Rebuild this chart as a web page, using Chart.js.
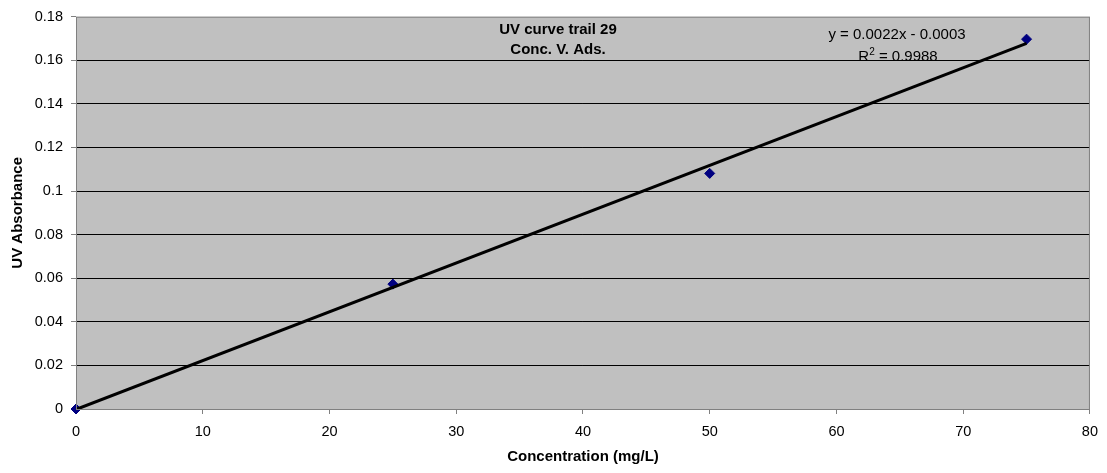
<!DOCTYPE html>
<html>
<head>
<meta charset="utf-8">
<script src="https://cdn.jsdelivr.net/npm/chart.js@4/dist/chart.umd.min.js"></script>
<style>
  html, body { margin: 0; padding: 0; background: #fff; }
  #wrap { width: 1107px; height: 473px; }
</style>
</head>
<body>
<div id="wrap"><canvas id="uvChart"></canvas></div>
<script>
// data
const concentration = [0, 25, 50, 75];
const absorbance = [0, 0.0573, 0.1081, 0.1697];
const xTicks = [0, 10, 20, 30, 40, 50, 60, 70, 80];
const yTicks = [0, 0.02, 0.04, 0.06, 0.08, 0.1, 0.12, 0.14, 0.16, 0.18];
const titleLines = ["UV curve trail 29", "Conc. V. Ads."];
const equationText = "y = 0.0022x - 0.0003";
const r2Text = "0.9988";

// linear trend line (least squares, like Excel)
function linearFit(xs, ys) {
    const n = xs.length;
    const mx = xs.reduce((a, b) => a + b, 0) / n;
    const my = ys.reduce((a, b) => a + b, 0) / n;
    let sxy = 0, sxx = 0;
    for (let i = 0; i < n; i++) {
        sxy += (xs[i] - mx) * (ys[i] - my);
        sxx += (xs[i] - mx) * (xs[i] - mx);
    }
    const slope = sxy / sxx;
    return { slope: slope, intercept: my - slope * mx };
}
const fit = linearFit(concentration, absorbance);
const xMin = concentration[0], xMax = concentration[concentration.length - 1];
const trendPoints = [
    { x: xMin, y: fit.slope * xMin + fit.intercept },
    { x: xMax, y: fit.slope * xMax + fit.intercept }
];

const FONT = "'Liberation Sans', Arial, sans-serif";

// grey plot background + border, and the text boxes
const plotArea = {
    id: 'plotArea',
    beforeDraw(chart) {
        const { ctx, chartArea: a } = chart;
        ctx.save();
        ctx.fillStyle = '#c0c0c0';
        ctx.fillRect(a.left, a.top, a.right - a.left, a.bottom - a.top);
        ctx.restore();
    },
    afterDatasetsDraw(chart) {
        const { ctx, chartArea: a } = chart;
        ctx.save();
        ctx.strokeStyle = '#808080';
        ctx.lineWidth = 1;
        ctx.strokeRect(a.left + 0.5, a.top + 0.5, a.right - a.left - 1, a.bottom - a.top);

        // chart title inside the plot
        ctx.fillStyle = '#000';
        ctx.textAlign = 'center';
        ctx.textBaseline = 'middle';
        ctx.font = 'bold 15px ' + FONT;
        ctx.fillText(titleLines[0], 558, 30);
        ctx.fillText(titleLines[1], 558, 50);

        // trendline equation
        ctx.font = '15px ' + FONT;
        ctx.fillText(equationText, 897, 35);
        const r2Label = 'R';
        const rest = ' = ' + r2Text;
        const w1 = ctx.measureText(r2Label).width;
        ctx.font = '10px ' + FONT;
        const w2 = ctx.measureText('2').width;
        ctx.font = '15px ' + FONT;
        const w3 = ctx.measureText(rest).width;
        let x0 = 898 - (w1 + w2 + w3) / 2;
        ctx.textAlign = 'left';
        ctx.fillText(r2Label, x0, 57);
        ctx.font = '10px ' + FONT;
        ctx.fillText('2', x0 + w1, 52);
        ctx.font = '15px ' + FONT;
        ctx.fillText(rest, x0 + w1 + w2, 57);
        ctx.restore();
    }
};

new Chart(document.getElementById('uvChart'), {
    type: 'scatter',
    data: {
        datasets: [
            {
                type: 'line',
                label: 'Linear',
                data: trendPoints,
                borderColor: '#000',
                borderWidth: 3,
                pointRadius: 0,
                fill: false,
                order: 0
            },
            {
                label: 'UV Absorbance',
                data: concentration.map((c, i) => ({ x: c, y: absorbance[i] })),
                pointStyle: 'rectRot',
                pointRadius: 5,
                backgroundColor: '#000080',
                borderColor: '#000080',
                borderWidth: 1,
                clip: false,
                order: 1
            }
        ]
    },
    options: {
        responsive: true,
        maintainAspectRatio: false,
        animation: false,
        layout: { autoPadding: false, padding: { left: 0, right: 12, top: 16, bottom: 0 } },
        plugins: {
            legend: { display: false },
            tooltip: { enabled: false }
        },
        scales: {
            x: {
                type: 'linear',
                min: 0,
                max: 80,
                afterBuildTicks: s => { s.ticks = xTicks.map(v => ({ value: v })); },
                afterFit: s => { s.height = 64; },
                grid: {
                    drawOnChartArea: false,
                    drawTicks: true,
                    tickLength: 5,
                    tickColor: '#808080'
                },
                border: { display: false },
                ticks: {
                    color: '#000',
                    font: { family: FONT, size: 14.5 },
                    padding: 9,
                    maxRotation: 0
                },
                title: {
                    display: true,
                    text: 'Concentration (mg/L)',
                    color: '#000',
                    font: { family: FONT, size: 15, weight: 'bold' },
                    padding: { top: 0, bottom: 7 }
                }
            },
            y: {
                type: 'linear',
                min: 0,
                max: 0.18,
                afterBuildTicks: s => { s.ticks = yTicks.map(v => ({ value: v })); },
                afterFit: s => { s.width = 76; },
                grid: {
                    color: ctx => (ctx.index === 0 || ctx.index === yTicks.length - 1) ? 'rgba(0,0,0,0)' : '#000',
                    lineWidth: 1,
                    drawTicks: true,
                    tickLength: 5,
                    tickColor: '#808080'
                },
                border: { display: false },
                ticks: {
                    color: '#000',
                    font: { family: FONT, size: 14.5 },
                    padding: 8,
                    callback: v => String(Math.round(v * 100) / 100)
                },
                title: {
                    display: true,
                    text: 'UV Absorbance',
                    color: '#000',
                    font: { family: FONT, size: 15, weight: 'bold' },
                    padding: { top: 9, bottom: 0 }
                }
            }
        }
    },
    plugins: [plotArea]
});
</script>
</body>
</html>
